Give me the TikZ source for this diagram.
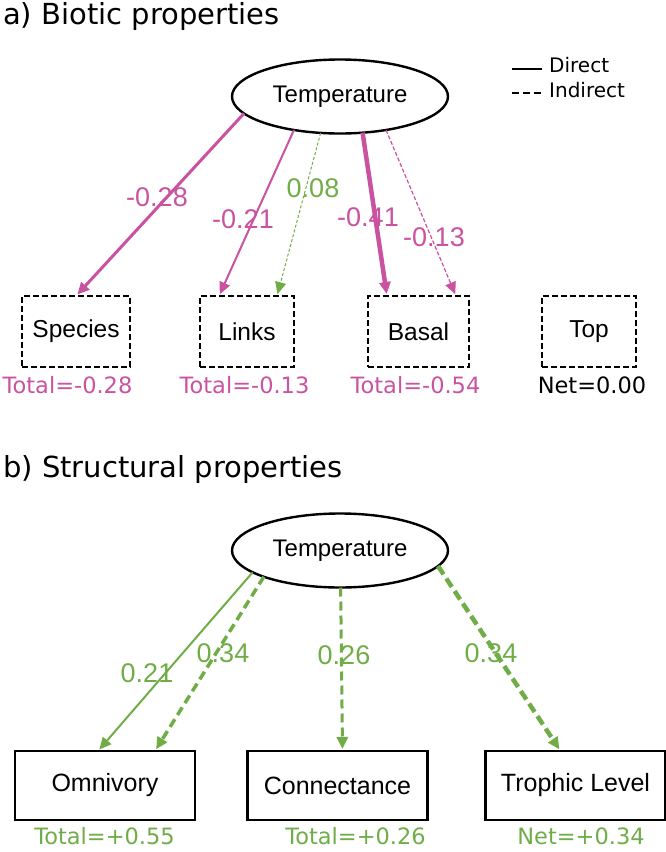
\documentclass[tikz,border=0pt]{standalone}
\usepackage{fontspec}
\setmainfont{Liberation Sans}
\newfontfamily\dejavu{DejaVu Sans}
\usepackage{tikz}
\usetikzlibrary{calc}
\usetikzlibrary{arrows.meta,shapes.geometric}
\definecolor{pinkeff}{RGB}{201,82,161}
\definecolor{greeneff}{RGB}{112,173,71}

\begin{document}
\begin{tikzpicture}[x=1pt,y=-1pt,
		temp/.style={ellipse, draw, line width=2.4pt, minimum width=216pt, minimum height=74pt, inner sep=0pt, outer sep=0pt, font=\fontsize{24}{28}\selectfont},
		biobox/.style={draw, dashed, dash pattern=on 6pt off 3pt, line width=2.4pt, minimum height=71pt, inner sep=0pt, outer sep=0pt, font=\fontsize{24.5}{28}\selectfont},
		strbox/.style={draw, line width=2.2pt, minimum width=180pt, minimum height=69pt, inner sep=0pt, outer sep=0pt, font=\fontsize{25}{28}\selectfont},
		eff/.style={-{Triangle[length=12pt,width=11pt]}, shorten >=2pt},
		effval/.style={inner sep=0pt, font=\fontsize{27}{30}\selectfont},
		total/.style={anchor=base, inner sep=0pt, font=\dejavu\fontsize{22.5}{26}\selectfont},
		title/.style={anchor=base west, inner sep=0pt, font=\dejavu\fontsize{29}{34}\selectfont},
		legend/.style={anchor=base west, inner sep=0pt, font=\dejavu\fontsize{20}{24}\selectfont}]
			\useasboundingbox (0,0) rectangle (666,852);

			%a) biotic
			\node[title] (titleA) at (3,24) {a) Biotic properties};
			\node[temp] (tempA) at (340,96.5) {Temperature};

			\coordinate (lgDirA) at (512,69);
			\coordinate (lgDirB) at (542,69);
			\node[legend] (lgDir) at (549,72) {Direct};
			\coordinate (lgIndA) at (512,93);
			\coordinate (lgIndB) at (542,93);
			\node[legend] (lgInd) at (549,97) {Indirect};

			\node[biobox, minimum width=108pt] (species) at ($(tempA)+(-264,235)$) {Species};
			\node[biobox, minimum width=94pt] (links) at ($(tempA)+(-93,235)$) {Links};
			\node[biobox, minimum width=101pt] (basal) at ($(tempA)+(78.5,235)$) {Basal};
			\node[biobox, minimum width=94pt] (top) at ($(tempA)+(249,235)$) {Top};

			\node[total, pinkeff] (totSpecies) at ($(species)+(-8.5,61.5)$) {Total=-0.28};
			\node[total, pinkeff] (totLinks) at ($(links)+(-2.5,61.5)$) {Total=-0.13};
			\node[total, pinkeff] (totBasal) at ($(basal)+(-3,61.5)$) {Total=-0.54};
			\node[total] (netTop) at ($(top)+(3,61.5)$) {Net=0.00};

			\node[effval, pinkeff] (vSpecies) at ($(tempA)+(-183,100.5)$) {-0.28};
			\node[effval, pinkeff] (vLinks) at ($(tempA)+(-97,122.5)$) {-0.21};
			\node[effval, greeneff] (vLinksInd) at ($(tempA)+(-27,91.5)$) {0.08};
			\node[effval, pinkeff] (vBasal) at ($(tempA)+(28,120.5)$) {-0.41};
			\node[effval, pinkeff] (vBasalInd) at ($(tempA)+(94,140.5)$) {-0.13};

			\draw[line width=2pt] (lgDirA) -- (lgDirB);
			\draw[line width=2pt, dash pattern=on 7pt off 4pt] (lgIndA) -- (lgIndB);

			\draw[eff, pinkeff, line width=3pt] (tempA.190) -- ([xshift=54pt]species.north west);
			\draw[eff, pinkeff, line width=2pt] (tempA.216) -- ([xshift=19pt]links.north west);
			\draw[eff, greeneff, line width=1pt, dash pattern=on 3pt off 2pt] (tempA.242) -- ([xshift=77pt]links.north west);
			\draw[eff, pinkeff, line width=4.5pt] (tempA.302) -- ([xshift=19pt]basal.north west);
			\draw[eff, pinkeff, line width=1.2pt, dash pattern=on 4pt off 2pt] (tempA.324) -- ([xshift=88pt]basal.north west);

			%b) structural
			\node[title] (titleB) at (3,477) {b) Structural properties};
			\node[temp] (tempB) at ($(tempA)+(0,454)$) {Temperature};

			\node[strbox] (omni) at ($(tempB)+(-235,235)$) {Omnivory};
			\node[strbox] (conn) at ($(tempB)+(-2.5,235)$) {Connectance};
			\node[strbox] (troph) at ($(tempB)+(235.5,235)$) {Trophic Level};

			\node[total, greeneff] (totOmni) at ($(omni)+(-0.5,59)$) {Total=+0.55};
			\node[total, greeneff] (totConn) at ($(conn)+(18,59)$) {Total=+0.26};
			\node[total, greeneff] (netTroph) at ($(troph)+(5.5,59)$) {Net=+0.34};

			\node[effval, greeneff] (vOmni) at ($(tempB)+(-193,122.5)$) {0.21};
			\node[effval, greeneff] (vOmniInd) at ($(tempB)+(-117,102.5)$) {0.34};
			\node[effval, greeneff] (vConn) at ($(tempB)+(4,104.5)$) {0.26};
			\node[effval, greeneff] (vTroph) at ($(tempB)+(151,102.5)$) {0.34};

			\draw[eff, greeneff, line width=2pt] (tempB.194) -- ([xshift=83pt]omni.north west);
			\draw[eff, greeneff, line width=3.5pt, dash pattern=on 9pt off 5pt] (tempB.199) -- ([xshift=140pt]omni.north west);
			\draw[eff, greeneff, line width=3pt, dash pattern=on 9pt off 5pt] (tempB.271) -- ([xshift=95pt]conn.north west);
			\draw[eff, greeneff, line width=4.5pt, dash pattern=on 10pt off 5pt] (tempB.351) -- ([xshift=75pt]troph.north west);

		\end{tikzpicture}
\end{document}
